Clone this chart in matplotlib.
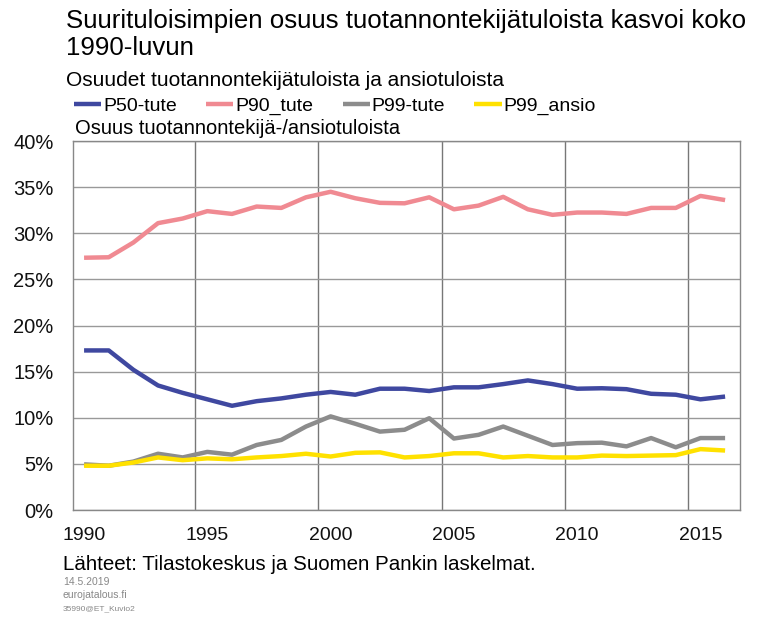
import numpy as np
import matplotlib.pyplot as plt

plt.rcParams['font.family'] = ['Liberation Sans', 'DejaVu Sans']

years = np.arange(1990, 2017)

p50_tute = [17.3, 17.3, 15.2, 13.5, 12.7, 12.0, 11.3, 11.8, 12.1, 12.5, 12.8, 12.5,
            13.15, 13.15, 12.9, 13.3, 13.3, 13.65, 14.05, 13.65, 13.15, 13.2, 13.1,
            12.6, 12.5, 12.0, 12.3]
p90_tute = [27.35, 27.4, 29.0, 31.1, 31.6, 32.4, 32.1, 32.9, 32.75, 33.9, 34.5, 33.8,
            33.3, 33.25, 33.9, 32.6, 33.0, 33.95, 32.6, 32.0, 32.25, 32.25, 32.1,
            32.75, 32.75, 34.05, 33.6]
p99_tute = [4.95, 4.8, 5.25, 6.1, 5.7, 6.3, 6.0, 7.05, 7.6, 9.05, 10.15, 9.35,
            8.5, 8.7, 9.95, 7.75, 8.15, 9.05, 8.05, 7.05, 7.25, 7.3, 6.9,
            7.8, 6.8, 7.8, 7.8]
p99_ansio = [4.8, 4.8, 5.15, 5.7, 5.4, 5.6, 5.5, 5.7, 5.85, 6.1, 5.8, 6.2,
             6.25, 5.7, 5.85, 6.15, 6.15, 5.7, 5.85, 5.7, 5.7, 5.9, 5.85,
             5.9, 5.95, 6.6, 6.45]

series = [
    ("P50-tute", p50_tute, "#3f48a0"),
    ("P90_tute", p90_tute, "#f08a92"),
    ("P99-tute", p99_tute, "#8c8c8c"),
    ("P99_ansio", p99_ansio, "#ffe100"),
]

fig = plt.figure(figsize=(7.57, 6.17), dpi=100)
ax = fig.add_axes([0.0964, 0.1734, 0.881, 0.598])

for name, vals, col in series:
    ax.plot(years, vals, color=col, lw=3.2, label=name, solid_capstyle="butt")

ax.set_xlim(1989.55, 2016.6)
ax.set_ylim(0, 40)

ax.set_xticks(np.arange(1990, 2016, 5))
ax.set_xticks(np.arange(1994.5, 2015, 5), minor=True)
ax.set_yticks(np.arange(0, 41, 5))
ax.set_yticklabels([f"{v}%" for v in range(0, 41, 5)])
ax.tick_params(axis="both", which="both", length=0, colors="#111111")
ax.tick_params(axis="x", pad=12, labelsize=14)
ax.tick_params(axis="y", pad=14, labelsize=14.5)

ax.grid(True, axis="x", which="minor", color="#777777", lw=1)
ax.grid(True, axis="y", which="major", color="#999999", lw=1)
ax.set_axisbelow(True)
for s in ax.spines.values():
    s.set_color("#888888")
    s.set_linewidth(1)

fig.text(0.087, 0.985, "Suurituloisimpien osuus tuotannontekijätuloista kasvoi koko\n1990-luvun",
         fontsize=18.6, va="top", linespacing=1.12)
fig.text(0.087, 0.860, "Osuudet tuotannontekijätuloista ja ansiotuloista", fontsize=15)
fig.legend(loc="center left", bbox_to_anchor=(0.098, 0.828), ncol=4, frameon=False,
           fontsize=14, handlelength=1.4, handletextpad=0.1, columnspacing=1.5,
           borderaxespad=0, borderpad=0)
fig.text(0.099, 0.783, "Osuus tuotannontekijä-/ansiotuloista", fontsize=14.5)

fig.text(0.083, 0.076, "Lähteet: Tilastokeskus ja Suomen Pankin laskelmat.", fontsize=14.8)
fig.text(0.083, 0.052, "14.5.2019", fontsize=7.5, color="#888888")
fig.text(0.083, 0.030, "eurojatalous.fi", fontsize=7.5, color="#888888")
fig.text(0.083, 0.011, "35990@ET_Kuvio2", fontsize=6, color="#888888")

fig.savefig("out.png", dpi=100)
